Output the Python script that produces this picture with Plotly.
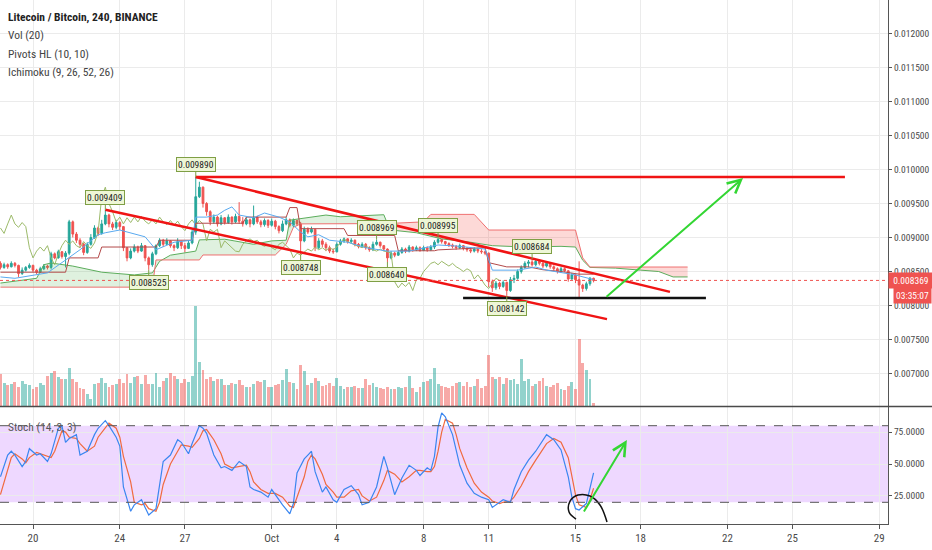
import plotly.graph_objects as go
import pandas as pd

# ---------------- data (prices in millionths of BTC) ----------------
START = "2018-09-18 12:00"      # time of the first 4-hour bar
BAR_HOURS = 4
UNIT = 1e-6

open_first = 8620
close = [8560, 8600, 8570, 8620, 8590, 8470, 8520, 8560, 8590, 8520,
         8490, 8540, 8580, 8560, 8760, 8700, 8790, 8720, 8770, 9230,
         9050, 8960, 8900, 8780, 8900, 9000, 9140, 9060, 9200, 9330,
         9200, 9150, 9220, 9160, 8850, 8700, 8800, 8860, 8800, 8880,
         8700, 8600, 8760, 8880, 8960, 8900, 8950, 8880, 8850, 8940,
         8880, 8840, 8920, 9080, 9600, 9740, 9500, 9380, 9230, 9300,
         9200, 9290, 9220, 9300, 9230, 9310, 9240, 9200, 9260, 9200,
         9300, 9230, 9190, 9250, 9180, 9240, 9160, 9100, 9200, 9260,
         9180, 9250, 9200, 8950, 9120, 9080, 9120, 8850, 8950, 8900,
         8850, 8800, 8790, 8900, 8950, 8980, 8940, 8960, 8900, 8870,
         8900, 8850, 8820, 8900, 8930, 8880, 8830, 8700, 8770, 8740,
         8780, 8830, 8800, 8860, 8820, 8850, 8810, 8850, 8820, 8860,
         8930, 8970, 8940, 8910, 8890, 8870, 8850, 8880, 8840, 8820,
         8800, 8830, 8800, 8790, 8770, 8350, 8260, 8330, 8280, 8340,
         8220, 8380, 8400, 8500, 8560, 8620, 8640, 8600, 8650, 8620,
         8580, 8620, 8570, 8540, 8500, 8540, 8510, 8390, 8450, 8380,
         8300, 8250, 8320, 8400, 8369]
high = [8650, 8630, 8620, 8650, 8640, 8600, 8560, 8580, 8620, 8600,
        8540, 8570, 8610, 8600, 8790, 8780, 8820, 8800, 8800, 9260,
        9250, 9080, 8990, 8920, 8930, 9050, 9180, 9160, 9260, 9409,
        9350, 9230, 9260, 9240, 9170, 8860, 8840, 8900, 8880, 8920,
        8890, 8720, 8790, 8900, 8990, 8980, 8990, 8960, 8900, 8990,
        8950, 8920, 8960, 9110, 9890, 9820, 9750, 9520, 9400, 9340,
        9320, 9330, 9300, 9340, 9310, 9350, 9520, 9300, 9300, 9280,
        9470, 9320, 9260, 9280, 9270, 9280, 9260, 9180, 9250, 9300,
        9280, 9280, 9260, 9230, 9160, 9150, 9160, 9130, 8990, 8980,
        8930, 8880, 8840, 8930, 8980, 9000, 8990, 8990, 8970, 8920,
        8930, 8920, 8870, 8940, 8969, 8940, 8890, 8840, 8800, 8790,
        8810, 8860, 8850, 8890, 8870, 8880, 8870, 8880, 8870, 8890,
        8960, 8995, 8980, 8950, 8930, 8910, 8890, 8910, 8890, 8860,
        8840, 8860, 8850, 8830, 8810, 8780, 8380, 8360, 8350, 8370,
        8350, 8420, 8450, 8530, 8590, 8650, 8670, 8684, 8680, 8670,
        8640, 8650, 8630, 8590, 8560, 8570, 8560, 8520, 8480, 8460,
        8650, 8320, 8350, 8420, 8410]
low = [8530, 8540, 8540, 8560, 8560, 8420, 8450, 8500, 8540, 8490,
       8460, 8480, 8520, 8530, 8530, 8680, 8690, 8690, 8560, 8740,
       9000, 8920, 8850, 8740, 8760, 8880, 8980, 9020, 9040, 9180,
       9150, 9110, 9120, 9110, 8800, 8650, 8680, 8780, 8770, 8790,
       8650, 8525, 8570, 8740, 8860, 8860, 8890, 8850, 8800, 8830,
       8830, 8780, 8830, 8900, 9040, 9580, 9440, 9320, 9180, 9200,
       9160, 9180, 9190, 9200, 9190, 9210, 9200, 9160, 9180, 9150,
       9180, 9200, 9150, 9160, 9140, 9160, 9120, 9060, 9080, 9180,
       9150, 9150, 9170, 8748, 8930, 9050, 9060, 8800, 8830, 8860,
       8800, 8770, 8760, 8780, 8880, 8920, 8910, 8920, 8870, 8840,
       8850, 8820, 8790, 8800, 8880, 8850, 8800, 8640, 8680, 8710,
       8730, 8760, 8770, 8780, 8790, 8800, 8790, 8800, 8790, 8800,
       8830, 8910, 8910, 8880, 8860, 8840, 8820, 8830, 8810, 8790,
       8770, 8780, 8770, 8760, 8740, 8270, 8200, 8230, 8240, 8260,
       8142, 8200, 8330, 8380, 8470, 8540, 8560, 8570, 8580, 8590,
       8550, 8560, 8540, 8510, 8470, 8480, 8490, 8350, 8380, 8330,
       8120, 8200, 8220, 8290, 8340]
volume_k = [64, 46, 42, 44, 48, 38, 50, 44, 42, 34, 38, 46, 42, 60, 66, 70, 58, 54, 54, 76,
            54, 48, 36, 34, 24, 14, 44, 46, 56, 46, 38, 42, 44, 54, 46, 64, 46, 58, 60, 44,
            62, 44, 44, 66, 38, 50, 56, 66, 60, 54, 46, 54, 48, 60, 200, 88, 72, 54, 58, 50,
            54, 54, 42, 42, 46, 44, 52, 42, 38, 38, 44, 50, 48, 52, 38, 38, 42, 44, 52, 74,
            48, 46, 34, 82, 70, 42, 46, 56, 50, 40, 42, 46, 40, 56, 40, 34, 38, 38, 40, 36,
            36, 54, 42, 46, 38, 36, 34, 38, 34, 34, 38, 36, 38, 60, 36, 28, 38, 48, 50, 54,
            76, 44, 40, 38, 36, 40, 46, 48, 40, 48, 38, 40, 54, 36, 40, 102, 58, 54, 58, 44,
            56, 52, 54, 44, 94, 50, 54, 40, 44, 50, 56, 40, 38, 42, 46, 34, 32, 40, 48, 34,
            134, 86, 72, 54, 6]

# Stochastic (14, 3, 3) readings at bar numbers
stoch_bar = [0, 2, 3, 4, 6, 7, 8, 10, 11, 13, 14, 15, 16, 17, 18, 19, 21, 22, 24, 26,
             27, 29, 30, 32, 33, 34, 36, 37, 39, 40, 41, 43, 44, 45, 47, 49, 50, 52, 53, 55,
             56, 57, 59, 61, 62, 64, 66, 68, 69, 70, 72, 74, 75, 76, 78, 80, 81, 82, 84, 85,
             86, 87, 89, 90, 92, 93, 95, 97, 99, 100, 102, 104, 106, 107, 109, 111, 113, 115, 116, 118,
             119, 120, 121, 122, 123, 125, 126, 127, 129, 131, 133, 135, 136, 138, 139, 141, 142, 144, 146, 148,
             151, 153, 155, 157, 158, 159, 160, 162, 163, 164]
stoch_k = [40, 57, 60, 57, 48, 52, 62, 57, 58, 52, 58, 69, 78, 80, 67, 70, 73, 57, 60, 73,
           78, 84, 80, 71, 64, 32, 13, 18, 22, 16, 10, 15, 35, 52, 57, 69, 67, 58, 66, 80,
           78, 74, 57, 47, 48, 45, 52, 48, 32, 30, 28, 24, 30, 26, 18, 11, 19, 43, 54, 57,
           60, 44, 28, 32, 22, 20, 30, 33, 26, 18, 20, 32, 56, 47, 26, 39, 49, 45, 41, 47,
           45, 56, 79, 90, 87, 73, 61, 49, 35, 27, 24, 22, 16, 20, 22, 20, 30, 44, 53, 60,
           73, 69, 61, 40, 24, 15, 14, 19, 32, 43]
stoch_d = [26, 45, 55, 58, 54, 51, 55, 59, 58, 56, 55, 60, 68, 76, 75, 71, 70, 66, 60, 64,
           71, 79, 82, 78, 71, 56, 36, 20, 18, 19, 15, 13, 20, 34, 50, 60, 65, 64, 63, 70,
           76, 77, 69, 58, 50, 47, 48, 49, 44, 36, 30, 27, 27, 27, 24, 17, 16, 24, 40, 52,
           57, 54, 42, 34, 28, 24, 24, 29, 30, 25, 21, 24, 37, 45, 42, 36, 40, 45, 45, 44,
           44, 48, 60, 75, 85, 82, 73, 62, 47, 35, 28, 24, 21, 19, 20, 21, 24, 33, 44, 53,
           66, 70, 67, 55, 40, 26, 18, 16, 22, 31]

# Ichimoku (9, 26, 52, 26) line readings at bar numbers
tenkan_bar = [0, 4, 13, 18, 22, 27, 29, 33, 40, 43, 45, 48, 53, 54, 57, 60, 62, 64, 66, 70,
              73, 77, 80, 83, 85, 88, 91, 96, 101, 107, 113, 118, 121, 126, 134, 136, 143, 148, 151, 159, 164]
tenkan = [8420, 8400, 8480, 8670, 8820, 9040, 9070, 9110, 9010, 8820, 8860, 8930, 8960, 9300, 9300, 9330, 9400, 9450, 9330, 9290,
          9360, 9300, 9230, 9080, 9010, 9040, 8960, 8930, 8850, 8800, 8800, 8860, 8890, 8875, 8830, 8520, 8520, 8566, 8520, 8450, 8380]
kijun_bar = [0, 18, 19, 27, 28, 43, 44, 53, 54, 67, 68, 79, 80, 82, 83, 95, 96, 109, 110, 120,
             121, 134, 135, 140, 146, 150, 155, 160, 164]
kijun = [8490, 8490, 8700, 8700, 8860, 8860, 8960, 8960, 9210, 9210, 9300, 9300, 9440, 9440, 9130, 9130, 9030, 9030, 8805, 8805,
         8818, 8850, 8630, 8568, 8568, 8526, 8500, 8461, 8461]
span_a_bar = [0, 10, 12, 14, 20, 28, 37, 42, 44, 47, 54, 55, 62, 66, 70, 75, 79, 80, 90, 94,
              106, 107, 108, 115, 122, 130, 136, 145, 155, 159, 161, 163, 170, 177, 182, 186, 190]
span_a = [8330, 8400, 8600, 8625, 8580, 8490, 8450, 8480, 8650, 8740, 8800, 8965, 8975, 8935, 8900, 8950, 8960, 9255, 9330, 9305,
          9335, 9205, 9110, 9070, 8980, 8930, 8880, 8860, 8870, 8860, 8665, 8560, 8550, 8520, 8500, 8420, 8420]
span_b_bar = [0, 42, 43, 55, 56, 76, 79, 81, 83, 107, 117, 119, 131, 135, 159, 161, 163, 190]
span_b = [8270, 8270, 8670, 8670, 8743, 8743, 8900, 9150, 9200, 9205, 9230, 9340, 9340, 9110, 9110, 8700, 8566, 8566]
CHIKOU_SHIFT = 26
CLOUD_SWITCH_BAR = 107   # span A above span B before it, below after it

# Pivots HL (10, 10)
pivot_bar = [29, 41, 54, 83, 104, 107, 121, 140, 147]
pivot_price = [9409, 8525, 9890, 8748, 8969, 8640, 8995, 8142, 8684]
pivot_kind = ["H", "L", "H", "L", "H", "L", "H", "L", "H"]

last_price = 0.008369
countdown = "03:35:07"

price_ticks = [0.0070, 0.0075, 0.0080, 0.0085, 0.0090, 0.0095, 0.0100, 0.0105, 0.0110, 0.0115, 0.0120]
stoch_ticks = [25, 50, 75]
date_ticks = ["2018-09-20", "2018-09-24", "2018-09-27", "2018-10-01", "2018-10-04", "2018-10-08",
              "2018-10-11", "2018-10-15", "2018-10-18", "2018-10-22", "2018-10-25", "2018-10-29"]
date_labels = ["20", "24", "27", "Oct", "4", "8", "11", "15", "18", "22", "25", "29"]

# hand-drawn objects: (time, value)
horizontal_resistance = [("2018-09-27 12:00", 0.009890), ("2018-10-27 10:00", 0.009890)]
channel_upper = [("2018-09-27 12:00", 0.009890), ("2018-10-19 08:30", 0.008200)]
channel_lower = [("2018-09-23 08:00", 0.009409), ("2018-10-16 10:50", 0.007800)]
support_line = [("2018-10-09 19:40", 0.008110), ("2018-10-21 00:15", 0.008110)]
target_arrow = [("2018-10-16 08:40", 0.008110), ("2018-10-22 17:20", 0.009875)]
stoch_arrow = [("2018-10-15 08:20", 11.6), ("2018-10-17 08:50", 68.8)]
stoch_circle = [("2018-10-15 00:33", 6.9), ("2018-10-14 16:52", 12.4), ("2018-10-14 18:00", 21.0),
                ("2018-10-15 02:46", 25.7), ("2018-10-15 16:02", 24.9), ("2018-10-16 03:06", 17.9),
                ("2018-10-16 10:51", 4.6)]

# ---------------- figure ----------------
FONT = "Roboto Condensed, Liberation Sans Narrow, Roboto, Liberation Sans, Arial, sans-serif"
UP, DOWN = "#26a69a", "#ef5350"
t0 = pd.Timestamp(START)


def bar_time(b):
    return t0 + pd.Timedelta(hours=BAR_HOURS * b)


times = [bar_time(i) for i in range(len(close))]
opens = [open_first] + close[:-1]
o = [v * UNIT for v in opens]
h = [v * UNIT for v in high]
l = [v * UNIT for v in low]
c = [v * UNIT for v in close]
vol_colors = ["rgba(38,166,154,0.5)" if cc >= oo else "rgba(239,83,80,0.5)" for oo, cc in zip(opens, close)]

fig = go.Figure()

# volume (own hidden axis overlaying the price pane)
fig.add_trace(go.Bar(x=times, y=volume_k, marker=dict(color=vol_colors, line=dict(width=0)),
                     width=BAR_HOURS * 3600 * 1000 * 0.8, yaxis="y2", hoverinfo="skip"))

# Ichimoku cloud
def cloud_polygon(before):
    pa = [(b, v) for b, v in zip(span_a_bar, span_a) if (b <= CLOUD_SWITCH_BAR if before else b >= CLOUD_SWITCH_BAR)]
    pb = [(b, v) for b, v in zip(span_b_bar, span_b) if (b <= CLOUD_SWITCH_BAR if before else b >= CLOUD_SWITCH_BAR)]
    pts = pa + pb[::-1]
    return [bar_time(b) for b, _ in pts], [v * UNIT for _, v in pts]

gx, gy = cloud_polygon(True)
rx, ry = cloud_polygon(False)
fig.add_trace(go.Scatter(x=gx, y=gy, fill="toself", fillcolor="rgba(76,175,80,0.18)", mode="none", hoverinfo="skip"))
fig.add_trace(go.Scatter(x=rx, y=ry, fill="toself", fillcolor="rgba(244,67,54,0.2)", mode="none", hoverinfo="skip"))

fig.add_trace(go.Scatter(x=[bar_time(b) for b in span_a_bar], y=[v * UNIT for v in span_a], mode="lines",
                         line=dict(color="#5cad5c", width=1), hoverinfo="skip"))
fig.add_trace(go.Scatter(x=[bar_time(b) for b in span_b_bar], y=[v * UNIT for v in span_b], mode="lines",
                         line=dict(color="#ef7070", width=1), hoverinfo="skip"))
fig.add_trace(go.Scatter(x=times[:len(close) - CHIKOU_SHIFT], y=c[CHIKOU_SHIFT:], mode="lines",
                         line=dict(color="#9cba6a", width=1), hoverinfo="skip"))
fig.add_trace(go.Scatter(x=[bar_time(b) for b in kijun_bar], y=[v * UNIT for v in kijun], mode="lines",
                         line=dict(color="#b34a4a", width=1), hoverinfo="skip"))
fig.add_trace(go.Scatter(x=[bar_time(b) for b in tenkan_bar], y=[v * UNIT for v in tenkan], mode="lines",
                         line=dict(color="#5aaaf0", width=1), hoverinfo="skip"))

# candles
fig.add_trace(go.Candlestick(x=times, open=o, high=h, low=l, close=c, whiskerwidth=0,
                             increasing=dict(line=dict(color=UP, width=1), fillcolor=UP),
                             decreasing=dict(line=dict(color=DOWN, width=1), fillcolor=DOWN),
                             hoverinfo="skip"))

# drawings on price pane
for seg, col, w in [(horizontal_resistance, "#f01414", 2.5), (channel_upper, "#f01414", 2.5),
                    (channel_lower, "#f01414", 2.5), (support_line, "#111111", 2.5)]:
    fig.add_trace(go.Scatter(x=[p[0] for p in seg], y=[p[1] for p in seg], mode="lines",
                             line=dict(color=col, width=w), hoverinfo="skip"))

# stochastic pane
st_t = [bar_time(b) for b in stoch_bar]
fig.add_trace(go.Scatter(x=st_t, y=stoch_d, mode="lines", line=dict(color="#f06a3f", width=1.2), yaxis="y3", hoverinfo="skip"))
fig.add_trace(go.Scatter(x=st_t, y=stoch_k, mode="lines", line=dict(color="#3a86f0", width=1.2), yaxis="y3", hoverinfo="skip"))
fig.add_trace(go.Scatter(x=[p[0] for p in stoch_circle], y=[p[1] for p in stoch_circle], mode="lines",
                         line=dict(color="#111111", width=1.5, shape="spline"), yaxis="y3", hoverinfo="skip"))

# layout geometry
W, H = 932, 550
MR, MB = 44, 26
plot_h = H - MB
sep_y = 406.5
main_bottom = (plot_h - 406) / plot_h
stoch_top = (plot_h - 407) / plot_h

shapes = [
    dict(type="rect", xref="paper", yref="y3", x0=0, x1=1, y0=20, y1=80,
         fillcolor="rgba(153,21,255,0.17)", line=dict(width=0), layer="below"),
    dict(type="line", xref="paper", yref="y3", x0=0, x1=1, y0=80, y1=80, line=dict(color="#555", width=1, dash="dash")),
    dict(type="line", xref="paper", yref="y3", x0=0, x1=1, y0=20, y1=20, line=dict(color="#555", width=1, dash="dash")),
    dict(type="line", xref="paper", yref="y", x0=0, x1=1, y0=last_price, y1=last_price,
         line=dict(color="#ef5350", width=1, dash="dot")),
    dict(type="line", xref="paper", yref="paper", x0=0, x1=W / (W - MR), y0=(plot_h - sep_y) / plot_h,
         y1=(plot_h - sep_y) / plot_h, line=dict(color="#4a4a4a", width=1.5)),
]

annotations = []
legend_lines = [("<b>Litecoin / Bitcoin, 240, BINANCE</b>", 17, "#222"), ("Vol (20)", 35, "#444"),
                ("Pivots HL (10, 10)", 54, "#444"), ("Ichimoku (9, 26, 52, 26)", 72, "#444")]
for txt, yy, col in legend_lines:
    annotations.append(dict(xref="paper", yref="paper", x=0, y=1, xanchor="left", yanchor="middle",
                            xshift=6, yshift=-yy, text=txt, showarrow=False,
                            font=dict(family=FONT, size=11.5, color=col)))
annotations.append(dict(xref="paper", yref="paper", x=0, y=stoch_top, xanchor="left", yanchor="middle",
                        xshift=6, yshift=-(427 - 407), text="Stoch (14, 3, 3)", showarrow=False,
                        font=dict(family=FONT, size=11.5, color="#555")))

for b, p, kind in zip(pivot_bar, pivot_price, pivot_kind):
    annotations.append(dict(x=bar_time(b), y=p * UNIT, xref="x", yref="y", text=f"{p * UNIT:.6f}",
                            showarrow=True, arrowhead=0, arrowwidth=1, arrowcolor="#7f9f45",
                            ax=0, ay=-12 if kind == "H" else 13,
                            bgcolor="#eef6d6", bordercolor="#7f9f45", borderwidth=1, borderpad=1,
                            font=dict(family=FONT, size=9.5, color="#222")))

annotations.append(dict(x=target_arrow[1][0], y=target_arrow[1][1], xref="x", yref="y",
                        ax=target_arrow[0][0], ay=target_arrow[0][1], axref="x", ayref="y",
                        showarrow=True, arrowhead=5, arrowsize=1.3, arrowwidth=2, arrowcolor="#33d633", text=""))
annotations.append(dict(x=stoch_arrow[1][0], y=stoch_arrow[1][1], xref="x", yref="y3",
                        ax=stoch_arrow[0][0], ay=stoch_arrow[0][1], axref="x", ayref="y3",
                        showarrow=True, arrowhead=5, arrowsize=1.3, arrowwidth=2, arrowcolor="#33d633", text=""))

annotations.append(dict(xref="paper", yref="y", x=1, y=last_price, xanchor="left", yanchor="middle",
                        text=f"{last_price:.6f}", showarrow=False, bgcolor="#ef5350", width=42, height=13,
                        borderpad=1, font=dict(family=FONT, size=9.5, color="white")))
annotations.append(dict(xref="paper", yref="y", x=1, y=last_price, xanchor="left", yanchor="middle",
                        xshift=5, yshift=-15, text=countdown, showarrow=False, bgcolor="#ef5350", width=35, height=13,
                        borderpad=1, font=dict(family=FONT, size=9.5, color="white")))

GRID = "#ebebeb"
fig.update_layout(
    width=W, height=H, margin=dict(l=0, r=MR, t=0, b=MB),
    paper_bgcolor="white", plot_bgcolor="white", showlegend=False,
    font=dict(family=FONT, size=10.5, color="#4a4a4a"),
    xaxis=dict(type="date", range=["2018-09-18 11:30", "2018-10-29 09:38"], anchor="y3",
               tickvals=date_ticks, ticktext=date_labels, showgrid=True, gridcolor=GRID,
               ticks="outside", ticklen=4, tickcolor="#555", showline=True, linecolor="#555", linewidth=1,
               rangeslider=dict(visible=False), zeroline=False, tickfont=dict(size=11)),
    yaxis=dict(domain=[main_bottom, 1], range=[0.0065222, 0.0124926], side="right", anchor="x",
               tickvals=price_ticks, tickformat=".6f", showgrid=True, gridcolor=GRID,
               ticks="outside", ticklen=3, tickcolor="#555", showline=True, linecolor="#555", linewidth=1,
               zeroline=False, tickfont=dict(size=9.5)),
    yaxis2=dict(overlaying="y", range=[0, 812], visible=False, showgrid=False),
    yaxis3=dict(domain=[0, stoch_top], range=[3.0, 94.65], side="right", anchor="x",
                tickvals=stoch_ticks, tickformat=".4f", showgrid=True, gridcolor=GRID,
                ticks="outside", ticklen=3, tickcolor="#555", showline=True, linecolor="#555", linewidth=1,
                zeroline=False, tickfont=dict(size=9.5)),
    shapes=shapes, annotations=annotations, bargap=0,
)

fig.write_html("out.html", config={"displayModeBar": False},
               post_script="document.body.style.margin='0px';document.body.style.overflow='hidden';")
